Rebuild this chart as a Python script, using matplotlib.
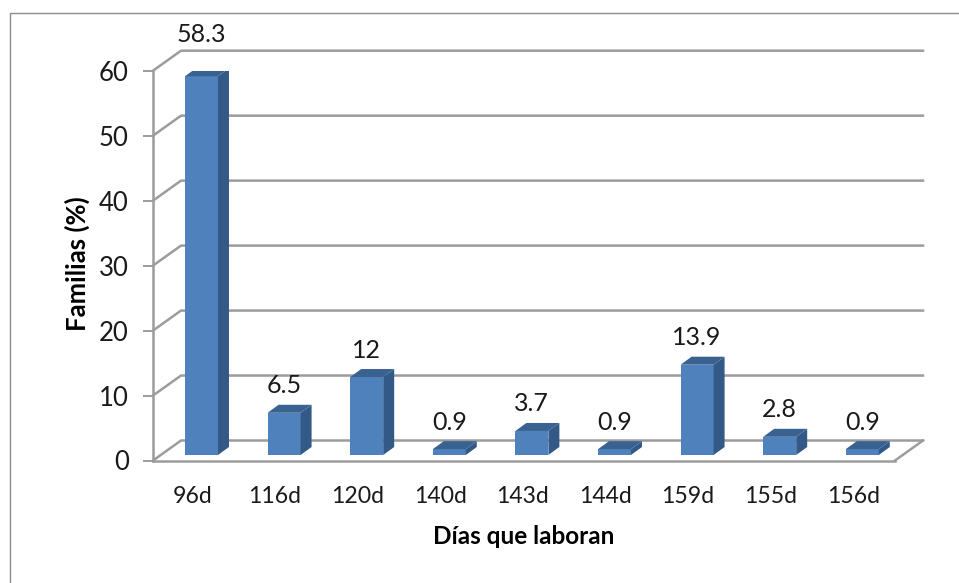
import matplotlib
matplotlib.use('Agg')
import matplotlib.pyplot as plt
from matplotlib.patches import Polygon
from matplotlib.lines import Line2D
from matplotlib.transforms import ScaledTranslation

categories = ['96d', '116d', '120d', '140d', '143d', '144d', '159d', '155d', '156d']
values = [58.3, 6.5, 12, 0.9, 3.7, 0.9, 13.9, 2.8, 0.9]
value_labels = ['58.3', '6.5', '12', '0.9', '3.7', '0.9', '13.9', '2.8', '0.9']
yticks = [0, 10, 20, 30, 40, 50, 60]

W, H = 959, 583
plt.rcParams['font.family'] = ['Lato', 'DejaVu Sans']

fig = plt.figure(figsize=(W / 100, H / 100), dpi=100)
# axes = front plane of the fake 3D box, in pixels
left, right, top, bottom = 153, 895, 70.7, 460.5
ax = fig.add_axes([left / W, 1 - bottom / H, (right - left) / W, (bottom - top) / H])
ax.set_xlim(-0.587, 8.396)
ax.set_ylim(0, 60)
ax.patch.set_visible(False)

px_x = (8.396 + 0.587) / (right - left)
px_y = 60 / (bottom - top)
grey = '#9c9c9c'
text_c = '#1a1a1a'

# depth of the wall and of a bar, in data units
wall_dx, wall_dy = 28 * px_x, 20 * px_y
bar_dx, bar_dy = 11 * px_x, 8 * px_y
lift = 5.5 * px_y
bar_w = 33 * px_x
xmin, xmax = ax.get_xlim()

# gridlines on the back wall, with the slanted part on the side wall
for t in yticks:
    ax.add_line(Line2D([xmin, xmin + wall_dx, xmax + wall_dx], [t, t + wall_dy, t + wall_dy],
                       color=grey, lw=1.8, clip_on=False, zorder=1))
ax.add_line(Line2D([xmax, xmax + wall_dx], [0, wall_dy], color=grey, lw=1.8, clip_on=False, zorder=1))

for s in ['top', 'right']:
    ax.spines[s].set_visible(False)
for s in ['left', 'bottom']:
    ax.spines[s].set_color(grey)
    ax.spines[s].set_linewidth(1.8)
ax.tick_params(axis='y', length=7, width=1.4, color=grey, labelsize=18.5, pad=10.5, labelcolor=text_c)
ax.set_yticks(yticks)
ax.set_xticks(range(len(categories)))
ax.set_xticklabels(categories)
ax.tick_params(axis='x', length=0, labelsize=16.6, pad=18.5, labelcolor=text_c)
shift = ScaledTranslation(-9 / 100, 0, fig.dpi_scale_trans)
for lab in ax.get_xticklabels():
    lab.set_transform(lab.get_transform() + shift)

front_c, dark_c = '#4f81bd', '#335a86'
for i, v in enumerate(values):
    x0, x1 = i - bar_w / 2, i + bar_w / 2
    y0, y1 = lift, lift + v
    ax.add_patch(Polygon([(x0, y0), (x1, y0), (x1, y1), (x0, y1)], fc=front_c, ec='none', zorder=3))
    ax.add_patch(Polygon([(x1, y0), (x1 + bar_dx, y0 + bar_dy), (x1 + bar_dx, y1 + bar_dy), (x1, y1)],
                         fc=dark_c, ec='none', zorder=3))
    ax.add_patch(Polygon([(x0, y1), (x1, y1), (x1 + bar_dx, y1 + bar_dy), (x0 + bar_dx, y1 + bar_dy)],
                         fc='#3a6291', ec='none', zorder=3))
    # first label was dragged up in the original
    gap = 34 if i == 0 else 19
    ax.text(i, y1 + bar_dy + gap * px_y, value_labels[i], ha='center', va='center', fontsize=18,
            color=text_c, zorder=4)

ax.set_ylabel('Familias (%)', fontsize=18.5, fontweight='bold', color='black')
ax.set_xlabel('Días que laboran', fontsize=17.5, fontweight='bold', color='black')
ax.yaxis.set_label_coords((77 - left) / (right - left), (bottom - 264) / (bottom - top))
ax.xaxis.set_label_coords((523.5 - left) / (right - left), (bottom - 536) / (bottom - top))
ax.xaxis.label.set_va('center')
ax.yaxis.label.set_va('center')

# chart frame
fig.add_artist(Line2D([9.5 / W, 9.5 / W, 1], [0, 1 - 13 / H, 1 - 13 / H], color='#8c8c8c', lw=1))

fig.savefig('out.png', dpi=100)
